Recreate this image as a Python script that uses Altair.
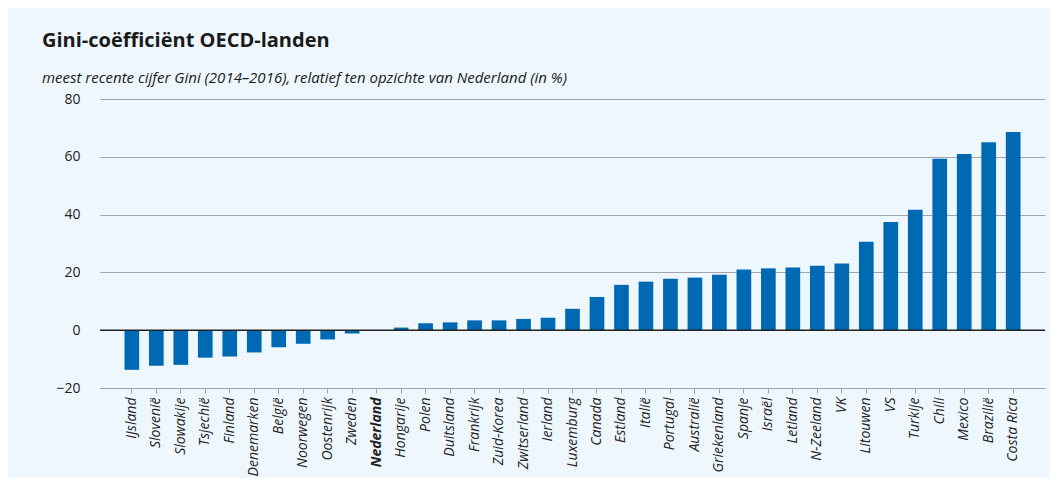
import altair as alt
import pandas as pd

countries = ["IJsland", "Slovenië", "Slowakije", "Tsjechië", "Finland", "Denemarken",
             "België", "Noorwegen", "Oostenrijk", "Zweden", "Nederland", "Hongarije",
             "Polen", "Duitsland", "Frankrijk", "Zuid-Korea", "Zwitserland", "Ierland",
             "Luxemburg", "Canada", "Estland", "Italië", "Portugal", "Australië",
             "Griekenland", "Spanje", "Israël", "Letland", "N-Zeeland", "VK",
             "Litouwen", "VS", "Turkije", "Chili", "Mexico", "Brazilië", "Costa Rica"]
values = [-13.7, -12.3, -12.0, -9.5, -9.1, -7.7,
          -5.9, -4.7, -3.2, -1.1, 0.0, 0.9,
          2.4, 2.7, 3.4, 3.4, 3.9, 4.3,
          7.4, 11.5, 15.7, 16.8, 17.8, 18.2,
          19.2, 21.0, 21.4, 21.7, 22.3, 23.1,
          30.6, 37.4, 41.7, 59.3, 61.0, 65.0, 68.6]
y_ticks = [-20, 0, 20, 40, 60, 80]
zero_line = [0]

df = pd.DataFrame({"land": countries, "waarde": values})
zdf = pd.DataFrame({"y": zero_line})

FONT = "Open Sans"
GRID = "#a0a4a8"

bars = alt.Chart(df).mark_bar(color="#0069B4").encode(
    x=alt.X("land:N", sort=countries, title=None,
            scale=alt.Scale(paddingInner=0.4, paddingOuter=1.0),
            axis=alt.Axis(labelAngle=-90, labelFontStyle="italic",
                          labelFontWeight=alt.expr("datum.value == 'Nederland' ? 'bold' : 'normal'"),
                          labelFont=FONT, labelFontSize=14, labelColor="#222222",
                          labelPadding=4, tickSize=5, tickColor=GRID,
                          domainColor=GRID, labelOverlap=False, labelLimit=200)),
    y=alt.Y("waarde:Q", title=None,
            scale=alt.Scale(domain=[-20, 80], nice=False, zero=False),
            axis=alt.Axis(values=y_ticks, domain=False, ticks=False, grid=True,
                          gridColor=GRID, gridWidth=1, labelFont=FONT,
                          labelFontSize=14, labelColor="#222222", labelPadding=20)),
)

zero = alt.Chart(zdf).mark_rule(color="#222222", strokeWidth=1.6).encode(y="y:Q")

chart = alt.layer(bars, zero).properties(
    width=945, height=289,
    autosize="none",
    padding={"left": 92, "top": 91, "right": 5, "bottom": 90},
    background="#EEF7FE",
    title=alt.TitleParams(
        text="Gini-coëfficiënt OECD-landen",
        subtitle="meest recente cijfer Gini (2014–2016), relatief ten opzichte van Nederland (in %)",
        anchor="start", frame="group", dx=-58, offset=6,
        font=FONT, fontSize=20, fontWeight="bold", color="#1a1a1a",
        subtitleFont=FONT, subtitleFontSize=15, subtitleFontStyle="italic",
        subtitleColor="#1a1a1a", subtitlePadding=20,
    ),
).configure_view(stroke=None)

chart.save("out.html", embed_options={"renderer": "svg", "actions": False})
